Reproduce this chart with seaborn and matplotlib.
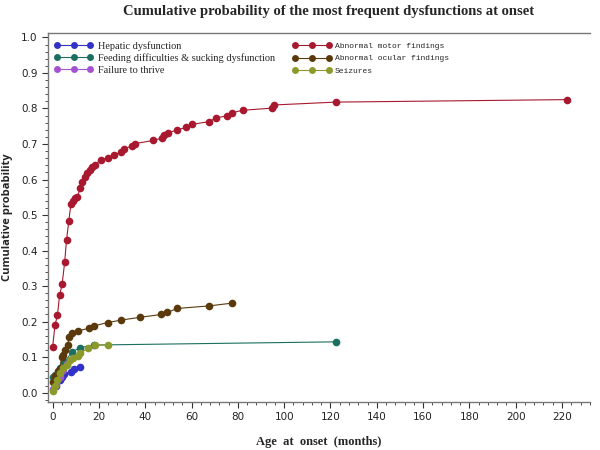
import numpy as np
import pandas as pd
import matplotlib
matplotlib.use("Agg")
import matplotlib.pyplot as plt
import seaborn as sns
from matplotlib.lines import Line2D
from matplotlib.ticker import MultipleLocator


# values (age in months, cumulative probability)
hepatic_x = [1.5, 3, 4, 5, 8, 9.3, 12]
hepatic_y = [0.02, 0.035, 0.045, 0.053, 0.059, 0.066, 0.073]

feeding_x = [0, 1, 3, 5, 8.2, 11.8, 17.9, 122.5]
feeding_y = [0.045, 0.05, 0.07, 0.085, 0.113, 0.127, 0.134, 0.143]

failure_x = [0, 1.5, 3, 4.5, 6]
failure_y = [0.01, 0.025, 0.045, 0.065, 0.08]

motor_x = [0, 1.0, 2.1, 3.0, 4.1, 5.2, 6.0, 7.0, 7.9, 8.9, 9.7, 10.7, 11.9,
           12.9, 13.9, 14.9, 16.1, 17.1, 18.1, 20.7, 23.8, 26.5, 29.5, 30.7,
           34.4, 35.4, 43.5, 47.2, 48.0, 49.8, 53.9, 57.8, 60.0, 67.4, 70.6,
           75.5, 77.5, 82.1, 94.7, 95.8, 122.4, 222]
motor_y = [0.129, 0.189, 0.219, 0.274, 0.305, 0.367, 0.430, 0.484, 0.531,
           0.540, 0.548, 0.552, 0.575, 0.594, 0.608, 0.618, 0.627, 0.635,
           0.641, 0.655, 0.661, 0.669, 0.678, 0.686, 0.695, 0.701, 0.710,
           0.717, 0.724, 0.731, 0.740, 0.747, 0.755, 0.763, 0.773, 0.780,
           0.788, 0.795, 0.801, 0.810, 0.818, 0.825]

ocular_x = [0, 1, 2.5, 3, 4, 4.5, 5.5, 6.5, 7.2, 8.2, 11, 15.6, 17.8, 23.7,
            29.4, 37.6, 47, 49.6, 53.9, 67.4, 77.5]
ocular_y = [0.03, 0.047, 0.06, 0.067, 0.10, 0.106, 0.12, 0.134, 0.158, 0.167,
            0.174, 0.181, 0.188, 0.197, 0.204, 0.212, 0.220, 0.226, 0.237,
            0.244, 0.252]

seizure_x = [0, 1, 2, 3.1, 4.6, 6, 7.5, 8.9, 10.8, 12, 15.3, 18.2, 23.7]
seizure_y = [0.005, 0.02, 0.036, 0.055, 0.069, 0.078, 0.092, 0.097, 0.103,
             0.111, 0.125, 0.134, 0.134]

groups = ["Hepatic dysfunction",
          "Feeding difficulties & sucking dysfunction",
          "Failure to thrive",
          "Abnormal motor findings",
          "Abnormal ocular findings",
          "Seizures"]

colors = ["#3232c8", "#1b6f60", "#a552d2", "#a8192f", "#5a3a0c", "#8c9a2c"]

xs = [hepatic_x, feeding_x, failure_x, motor_x, ocular_x, seizure_x]
ys = [hepatic_y, feeding_y, failure_y, motor_y, ocular_y, seizure_y]


frames = []
for g, x, y in zip(groups, xs, ys):
    frames.append(pd.DataFrame({"age": x, "prob": y, "group": g}))
df = pd.concat(frames, ignore_index=True)


sns.set_style("ticks")

fig = plt.figure(figsize=(6, 4.5), dpi=100)
ax = fig.add_axes([0.08, 0.107, 0.903, 0.82])

sns.lineplot(
    data=df,
    x="age",
    y="prob",
    hue="group",
    hue_order=groups,
    palette=colors,
    marker="o",
    markersize=5.5,
    markeredgewidth=0,
    linewidth=0.8,
    estimator=None,
    sort=False,
    legend=False,
    ax=ax
)

ax.set_xlim(-2, 232)
ax.set_ylim(-0.026, 1.013)

ax.xaxis.set_major_locator(MultipleLocator(20))
ax.xaxis.set_minor_locator(MultipleLocator(4))
ax.yaxis.set_major_locator(MultipleLocator(0.1))
ax.yaxis.set_minor_locator(MultipleLocator(0.02))

ax.set_xticks(np.arange(0, 221, 20))
ax.set_xticklabels([str(v) for v in range(0, 221, 20)])
ax.set_yticks(np.arange(0, 1.01, 0.1))
ax.set_yticklabels([f"{v:.1f}" for v in np.arange(0, 1.01, 0.1)])

ax.tick_params(axis="both", which="major", labelsize=7.5, length=4,
               width=0.8, colors="#333333", labelcolor="#222222")
ax.tick_params(axis="both", which="minor", length=2.5, width=0.6,
               colors="#333333")

for s in ["left", "bottom", "top"]:
    ax.spines[s].set_color("#777777")
    ax.spines[s].set_linewidth(1.0)
ax.spines["right"].set_visible(False)

ax.set_xlabel("Age  at  onset  (months)", family="Liberation Serif",
              fontweight="bold", fontsize=9, labelpad=10)
ax.set_ylabel("Cumulative probability", family="Open Sans",
              fontweight="bold", fontsize=8, labelpad=6)

fig.suptitle("Cumulative probability of the most frequent dysfunctions at onset",
             family="Liberation Serif", fontweight="bold", fontsize=10.5,
             x=0.548, y=0.988)


# legends: left column in serif, right column in monospace like the original
def handles(idx):
    return [Line2D([0], [0], color=colors[i], marker="o", markersize=5,
                   markeredgewidth=0, linewidth=0.8) for i in idx]


leg1 = ax.legend(handles(range(3)), groups[:3], loc="upper left",
                 bbox_to_anchor=(-0.004, 1.0), frameon=False, numpoints=3,
                 handlelength=3.8, handletextpad=0.5, labelspacing=0.25,
                 borderaxespad=0.4,
                 prop={"family": "Liberation Serif", "size": 7.4})
ax.add_artist(leg1)

ax.legend(handles(range(3, 6)), groups[3:], loc="upper left",
          bbox_to_anchor=(0.44, 0.992), frameon=False, numpoints=3,
          handlelength=4.8, handletextpad=0.4, labelspacing=0.6,
          borderaxespad=0.4,
          prop={"family": "Liberation Mono", "size": 5.8})


plt.savefig("out.png", dpi=100)
plt.close()
